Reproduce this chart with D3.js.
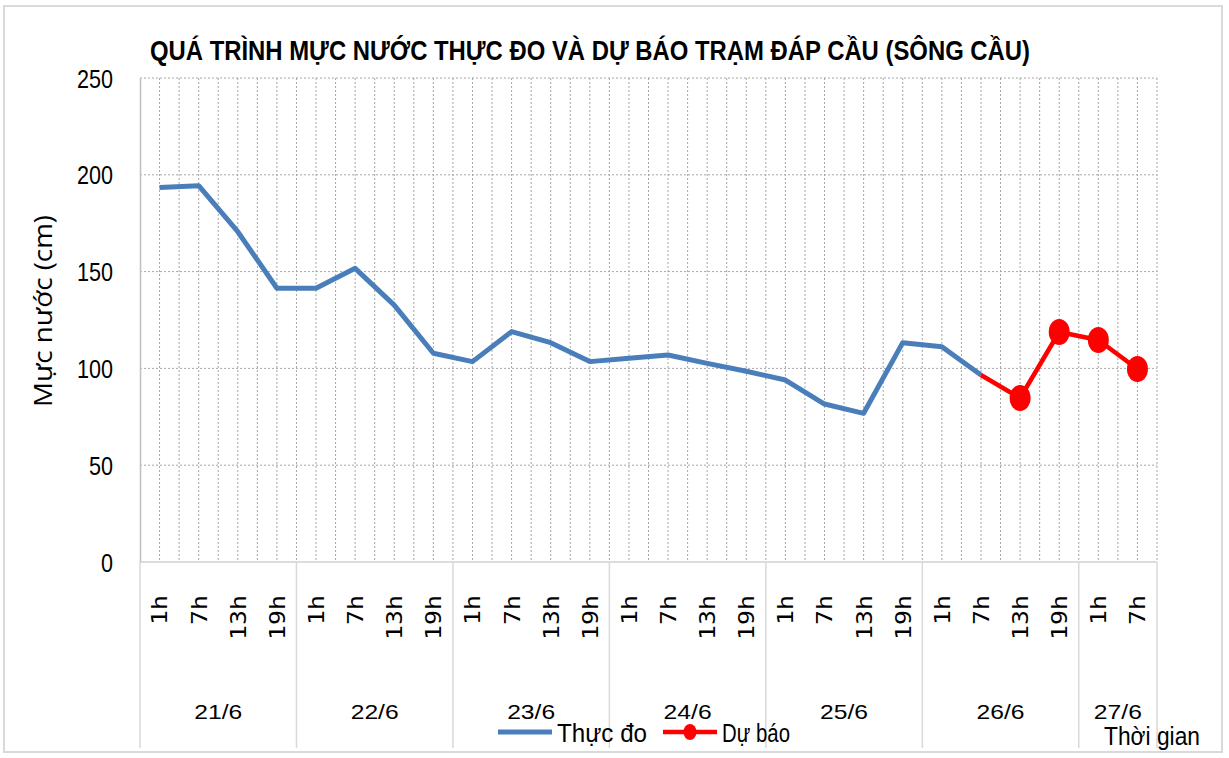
<!DOCTYPE html>
<html>
<head>
<meta charset="utf-8">
<script src="https://cdn.jsdelivr.net/npm/d3@7"></script>
<style>
  html, body { margin: 0; padding: 0; background: #ffffff; }
  svg { display: block; }
</style>
</head>
<body>
<svg id="chart" width="1229" height="758"></svg>
<script>
// ---------------- DATA ----------------
const chartTitle = "QUÁ TRÌNH MỰC NƯỚC THỰC ĐO VÀ DỰ BÁO TRẠM ĐÁP CẦU (SÔNG CẦU)";
const yAxisTitle = "Mực nước (cm)";
const xAxisTitle = "Thời gian";
const seriesNames = ["Thực đo", "Dự báo"];

const hourLabels = ["1h","7h","13h","19h", "1h","7h","13h","19h", "1h","7h","13h","19h",
                    "1h","7h","13h","19h", "1h","7h","13h","19h", "1h","7h","13h","19h",
                    "1h","7h"];
const dayLabels = ["21/6","22/6","23/6","24/6","25/6","26/6","27/6"];
const daySpans  = [4, 4, 4, 4, 4, 4, 2];

const measured = [193.5, 194.4, 170.6, 141.4, 141.4, 151.7, 132.7, 107.8,
                  103.5, 119.0, 113.3, 103.5, 105.2, 106.9, 102.6, 98.5,
                  94.0, 81.6, 76.8, 113.3, 111.2, 96.6,
                  null, null, null, null];
const forecast = [null, null, null, null, null, null, null, null,
                  null, null, null, null, null, null, null, null,
                  null, null, null, null, null, 96.6,
                  84.7, 118.8, 114.7, 99.7];

const yTicks = [0, 50, 100, 150, 200, 250];

// ---------------- LAYOUT ----------------
const W = 1229, H = 758;
const plot = { left: 140, right: 1157, top: 78, bottom: 562 };
const catAxisBottom = 748;

const colMeasured = "#4a7ebb";
const colForecast = "#ff0000";
const sans = "'Liberation Sans', Arial, sans-serif";

const svg = d3.select("#chart");

// background + outer frame
svg.append("rect").attr("x", 0).attr("y", 0).attr("width", W).attr("height", H).attr("fill", "#ffffff");
svg.append("rect").attr("x", 4).attr("y", 6).attr("width", 1218).attr("height", 746)
   .attr("fill", "none").attr("stroke", "#d9d9d9").attr("stroke-width", 2);

// scales
const idx = d3.range(hourLabels.length);
const x = d3.scaleBand().domain(idx).range([plot.left, plot.right]).padding(0);
const xc = i => x(i) + x.bandwidth() / 2;
const y = d3.scaleLinear().domain([0, 250]).range([plot.bottom, plot.top]);

// vertical dotted gridlines at every half category
const half = x.bandwidth() / 2;
const vgrid = d3.range(1, hourLabels.length * 2 + 1).map(k => plot.left + k * half);
svg.append("g").selectAll("line").data(vgrid).join("line")
  .attr("x1", d => d).attr("x2", d => d)
  .attr("y1", y(250)).attr("y2", plot.bottom)
  .attr("stroke", "#a6a6a6").attr("stroke-width", 1).attr("stroke-dasharray", "2,2");

// horizontal dotted gridlines
svg.append("g").selectAll("line").data(yTicks.filter(d => d > 0)).join("line")
  .attr("x1", plot.left).attr("x2", plot.right)
  .attr("y1", d => y(d)).attr("y2", d => y(d))
  .attr("stroke", "#a6a6a6").attr("stroke-width", 1).attr("stroke-dasharray", "2,2");

// y axis via d3.axisLeft
const yAxis = d3.axisLeft(y).tickValues(yTicks).tickSize(0).tickPadding(27);
const gy = svg.append("g").attr("transform", `translate(${plot.left},0)`).call(yAxis);
gy.select(".domain").attr("stroke", "#bfbfbf").attr("stroke-width", 1.5);
gy.selectAll("text").attr("font-family", sans).attr("font-size", 25).attr("fill", "#000")
  .attr("dy", "0.36em")
  .attr("textLength", d => String(d).length * 12).attr("lengthAdjust", "spacingAndGlyphs");

// category axis line
svg.append("line").attr("x1", plot.left).attr("x2", plot.right)
  .attr("y1", plot.bottom).attr("y2", plot.bottom)
  .attr("stroke", "#d0d0d0").attr("stroke-width", 1.5);

// day group separators
let acc = 0;
const dayBounds = [0];
daySpans.forEach(s => { acc += s; dayBounds.push(acc); });
svg.append("g").selectAll("line").data(dayBounds).join("line")
  .attr("x1", d => plot.left + d * x.bandwidth()).attr("x2", d => plot.left + d * x.bandwidth())
  .attr("y1", plot.bottom).attr("y2", catAxisBottom)
  .attr("stroke", "#d9d9d9").attr("stroke-width", 1.5);

// hour labels (rotated)
svg.append("g").selectAll("text").data(idx).join("text")
  .attr("transform", i => `translate(${xc(i)},595) rotate(-90)`)
  .attr("text-anchor", "end").attr("dy", "0.36em")
  .attr("font-family", "'DejaVu Sans Mono', 'Liberation Mono', monospace")
  .attr("font-size", 22).attr("fill", "#000")
  .attr("textLength", i => hourLabels[i].length * 15).attr("lengthAdjust", "spacingAndGlyphs")
  .text(i => hourLabels[i]);

// day labels
svg.append("g").selectAll("text").data(dayLabels).join("text")
  .attr("x", (d, k) => plot.left + (dayBounds[k] + dayBounds[k + 1]) / 2 * x.bandwidth())
  .attr("y", 719).attr("text-anchor", "middle")
  .attr("font-family", sans).attr("font-size", 21).attr("fill", "#000")
  .attr("textLength", 48).attr("lengthAdjust", "spacingAndGlyphs")
  .text(d => d);

// lines
const line = d3.line().defined(d => d != null).x((d, i) => xc(i)).y(d => y(d));
svg.append("path").datum(measured).attr("d", line)
  .attr("fill", "none").attr("stroke", colMeasured).attr("stroke-width", 5)
  .attr("stroke-linejoin", "round").attr("stroke-linecap", "butt");
svg.append("path").datum(forecast).attr("d", line)
  .attr("fill", "none").attr("stroke", colForecast).attr("stroke-width", 4.5)
  .attr("stroke-linejoin", "round");

// forecast markers (the first forecast point joins the observed line, no marker)
const fPts = idx.filter(i => forecast[i] != null).slice(1);
svg.append("g").selectAll("ellipse").data(fPts).join("ellipse")
  .attr("cx", i => xc(i)).attr("cy", i => y(forecast[i]))
  .attr("rx", 10.5).attr("ry", 13).attr("fill", colForecast);

// title
svg.append("text").attr("x", 590).attr("y", 60).attr("text-anchor", "middle")
  .attr("font-family", sans).attr("font-weight", "bold").attr("font-size", 27)
  .attr("textLength", 880).attr("lengthAdjust", "spacingAndGlyphs")
  .attr("fill", "#000").text(chartTitle);

// y axis title
svg.append("text").attr("transform", "translate(52,311) rotate(-90)")
  .attr("text-anchor", "middle")
  .attr("font-family", "'Open Sans', 'DejaVu Sans', sans-serif").attr("font-size", 26)
  .attr("textLength", 192).attr("lengthAdjust", "spacingAndGlyphs")
  .attr("fill", "#000").text(yAxisTitle);

// legend
const lg = svg.append("g");
lg.append("line").attr("x1", 498).attr("x2", 552).attr("y1", 732).attr("y2", 732)
  .attr("stroke", colMeasured).attr("stroke-width", 5);
lg.append("text").attr("x", 557).attr("y", 742).attr("font-family", sans).attr("font-size", 26)
  .attr("textLength", 90).attr("lengthAdjust", "spacingAndGlyphs")
  .attr("fill", "#000").text(seriesNames[0]);
lg.append("line").attr("x1", 663).attr("x2", 717).attr("y1", 732).attr("y2", 732)
  .attr("stroke", colForecast).attr("stroke-width", 4.5);
lg.append("ellipse").attr("cx", 690).attr("cy", 732).attr("rx", 6.5).attr("ry", 8).attr("fill", colForecast);
lg.append("text").attr("x", 722).attr("y", 742).attr("font-family", sans).attr("font-size", 26)
  .attr("textLength", 68).attr("lengthAdjust", "spacingAndGlyphs")
  .attr("fill", "#000").text(seriesNames[1]);

// x axis title
svg.append("text").attr("x", 1104).attr("y", 745).attr("font-family", sans).attr("font-size", 26)
  .attr("textLength", 96).attr("lengthAdjust", "spacingAndGlyphs")
  .attr("fill", "#000").text(xAxisTitle);
</script>
</body>
</html>
